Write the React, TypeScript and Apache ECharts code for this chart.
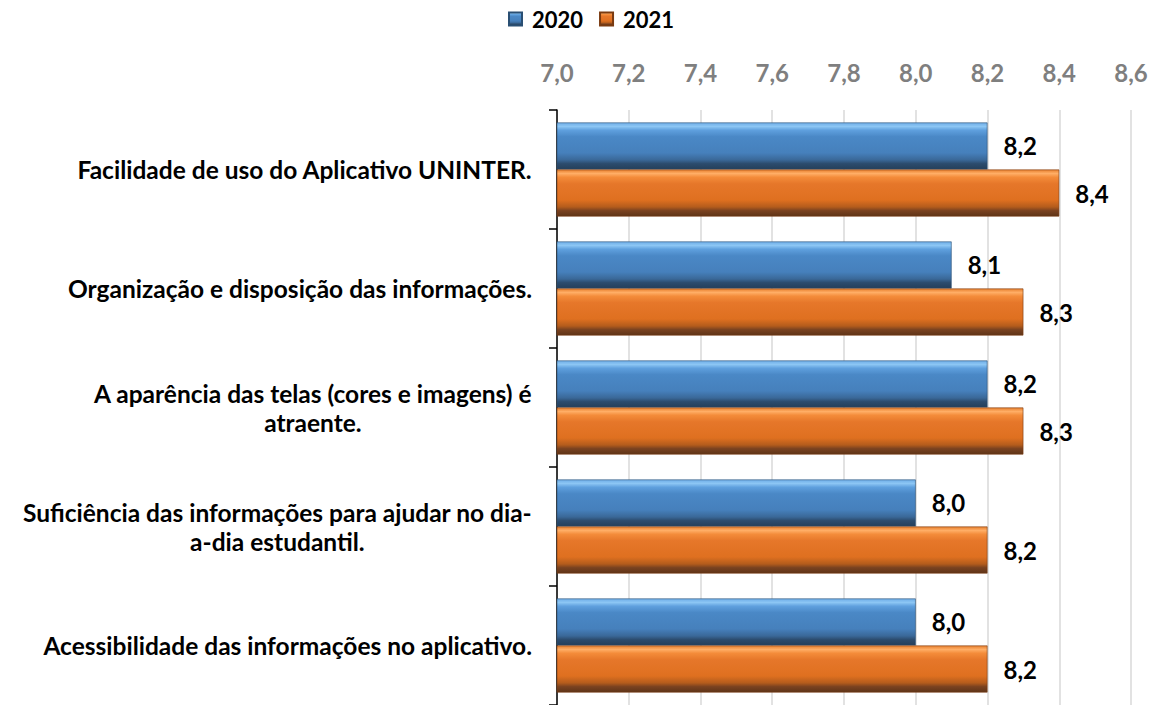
import React, { useEffect, useRef } from "react";
import * as echarts from "echarts";

const categories = [
  "Facilidade de uso do Aplicativo UNINTER.",
  "Organização e disposição das informações.",
  "A aparência das telas (cores e imagens) é\natraente.",
  "Suficiência das informações para ajudar no dia-\na-dia estudantil.",
  "Acessibilidade das informações no aplicativo.",
];
const seriesNames = ["2020", "2021"];
const values2020 = [8.2, 8.1, 8.2, 8.0, 8.0];
const values2021 = [8.4, 8.3, 8.3, 8.2, 8.2];

const FONT = "Lato, 'Liberation Sans', Arial, sans-serif";

const fmt = (v: number) => v.toFixed(1).replace(".", ",");

const grad = (stops: [number, string][]) =>
  new echarts.graphic.LinearGradient(
    0,
    0,
    0,
    1,
    stops.map(([offset, color]) => ({ offset, color }))
  );

export default function App() {
  const ref = useRef<HTMLDivElement>(null);
  useEffect(() => {
    document.body.style.margin = "0";
    const chart = echarts.init(ref.current!, null, { renderer: "svg" });
    const blue = grad([
      [0, "#6FAEE8"],
      [0.08, "#8CC6F4"],
      [0.16, "#5FA0DE"],
      [0.3, "#4A88C6"],
      [0.65, "#4680BC"],
      [0.8, "#3A6898"],
      [0.88, "#2C4C6E"],
      [1, "#253F5A"],
    ]);
    const orange = grad([
      [0, "#E8802E"],
      [0.08, "#FFAE66"],
      [0.16, "#F48C3A"],
      [0.3, "#E6772A"],
      [0.65, "#DF7020"],
      [0.8, "#B45C1C"],
      [0.88, "#7A4220"],
      [1, "#5E3418"],
    ]);
    const labelStyle = {
      show: true,
      position: "right" as const,
      distance: 16,
      formatter: (p: any) => fmt(p.value),
      fontFamily: FONT,
      fontWeight: "bold" as const,
      fontSize: 24,
      color: "#000",
    };
    chart.setOption({
      animation: false,
      legend: {
        data: seriesNames,
        top: 3,
        left: 503,
        icon: "rect",
        itemWidth: 13,
        itemHeight: 13,
        itemGap: 16,
        textStyle: {
          fontFamily: FONT,
          fontWeight: "bold",
          fontSize: 22,
          color: "#000",
          padding: [0, 0, 0, 5],
        },
      },
      grid: { left: 557, right: 23, top: 110, height: 597 },
      xAxis: {
        type: "value",
        position: "top",
        min: 7,
        max: 8.6,
        interval: 0.2,
        axisLine: { show: false },
        axisTick: { show: false },
        splitLine: { show: true, lineStyle: { color: "#D9D9D9", width: 1.5 } },
        axisLabel: {
          margin: 26,
          formatter: (v: number) => fmt(v),
          fontFamily: FONT,
          fontWeight: "bold",
          fontSize: 24,
          color: "#7F7F7F",
        },
      },
      yAxis: {
        type: "category",
        inverse: true,
        data: categories,
        axisLine: { show: true, lineStyle: { color: "#000", width: 1.5 } },
        axisTick: { show: true, length: 8, lineStyle: { color: "#000", width: 1.5 } },
        axisLabel: {
          margin: 25,
          formatter: (v: string) =>
            v
              .split("\n")
              .map((l) => `{c|${l}}`)
              .join("\n"),
          rich: {
            c: {
              align: "center",
              fontFamily: FONT,
              fontWeight: "bold",
              fontSize: 24.5,
              lineHeight: 29,
              color: "#000",
            },
          },
        },
      },
      series: [
        {
          name: seriesNames[0],
          type: "bar",
          data: values2020,
          barGap: "0%",
          barCategoryGap: "21%",
          itemStyle: { color: blue, borderColor: "#2A4F73", borderWidth: 0.6 },
          label: labelStyle,
        },
        {
          name: seriesNames[1],
          type: "bar",
          data: values2021,
          barGap: "0%",
          barCategoryGap: "21%",
          itemStyle: { color: orange, borderColor: "#7A3A10", borderWidth: 0.6 },
          label: labelStyle,
        },
      ],
    });
    return () => chart.dispose();
  }, []);
  return <div ref={ref} style={{ width: 1154, height: 705 }} />;
}
